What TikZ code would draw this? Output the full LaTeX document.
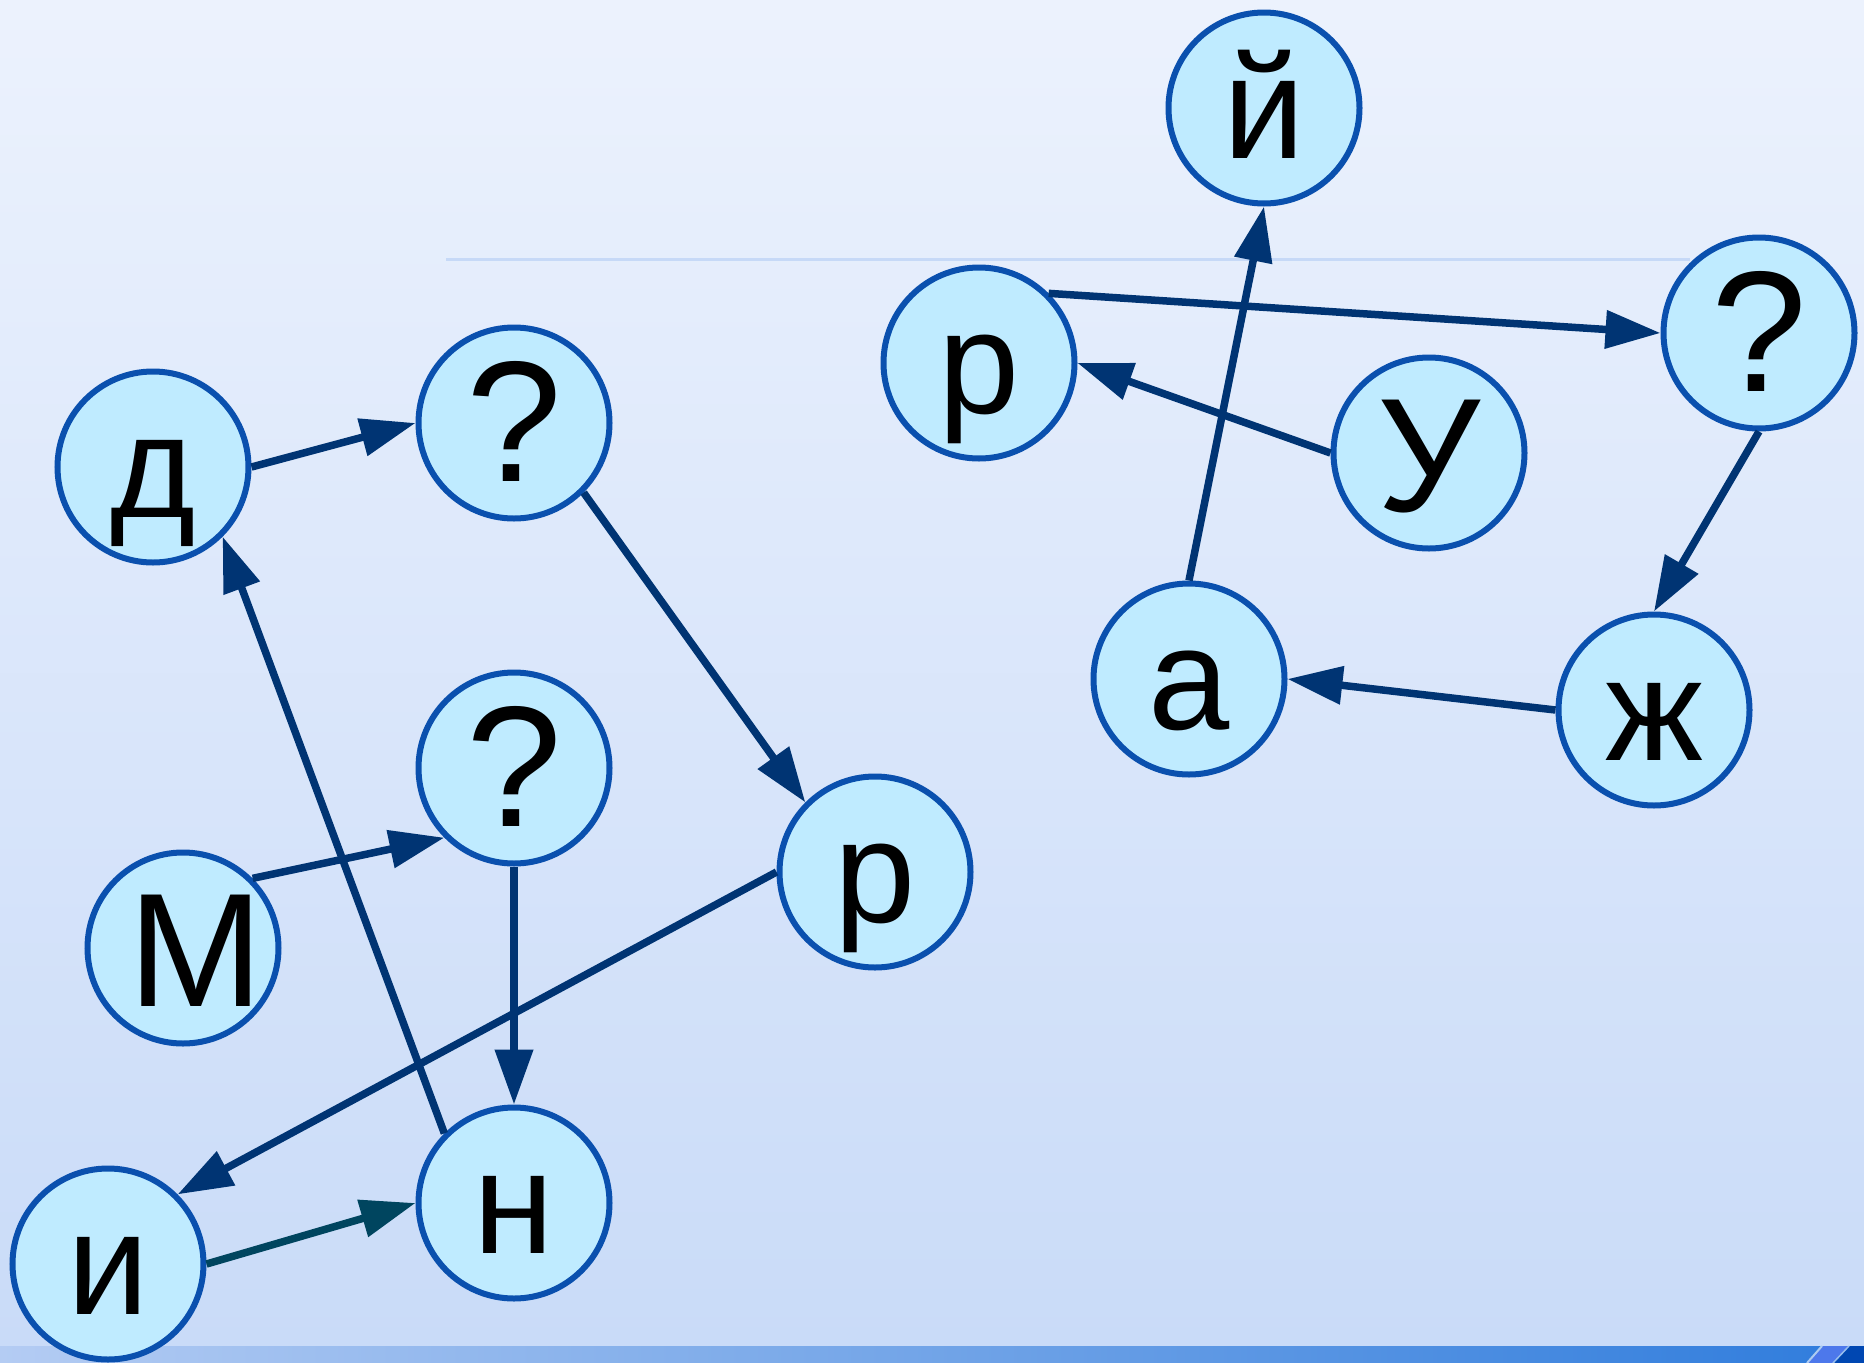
\documentclass[tikz,border=0pt]{standalone}
\usepackage{fontspec}
\setmainfont{Liberation Sans}
\usetikzlibrary{arrows.meta}
\definecolor{bgtop}{HTML}{ECF2FD}
\definecolor{bgbot}{HTML}{C9DBF8}
\definecolor{barleft}{HTML}{B4CCF3}
\definecolor{barright}{HTML}{2F7CDC}
\definecolor{nodefill}{HTML}{BFEBFF}
\definecolor{nodedraw}{HTML}{0A50AE}
\definecolor{arr}{HTML}{003473}
\definecolor{arrteal}{HTML}{00455F}
\definecolor{hline}{HTML}{C6D9F7}
\begin{document}
\begin{tikzpicture}[x=1pt,y=-1pt,
  vtx/.style={circle, draw=nodedraw, fill=nodefill, line width=6pt,
    minimum size=191pt, inner sep=0pt, text height=100pt, text depth=0pt,
    font=\fontsize{146}{146}\selectfont},
  bigglyph/.style={font=\fontsize{172}{172}\selectfont, text height=116pt},
  capglyph/.style={font=\fontsize{162}{162}\selectfont, text height=116pt},
  link/.style={draw=arr, line width=7.5pt, -{Triangle[length=55pt,width=37pt]}},
  linkteal/.style={link, draw=arrteal},
]
\useasboundingbox (0,0) rectangle (1864,1363);
% background
\shade[top color=bgtop, bottom color=bgbot] (0,0) rectangle (1864,1346);
\shade[left color=barleft, right color=barright] (0,1346) rectangle (1864,1363);
\fill[barright!70!blue!80!white] (1807,1363) -- (1822,1346) -- (1864,1346) -- (1864,1363) -- cycle;
\fill[blue!60!cyan!70!black] (1833,1363) -- (1849,1346) -- (1864,1346) -- (1864,1363) -- cycle;
\draw[white!60!barright, line width=2pt] (1807,1363) -- (1822,1346);
\draw[white!50!barright, line width=1.5pt] (1833,1363) -- (1849,1346);
\draw[hline, line width=3pt] (446,259) -- (1690,259);

% nodes
\node[vtx] (d)  at (153,467)  {д};
\node[vtx,bigglyph] (q1) at (514,423)  {?};
\node[vtx,bigglyph] (q2) at (514,768)  {?};
\node[vtx,capglyph] (m)  at (183,948)  {\makebox[0pt][c]{\hspace*{26pt}М}};
\node[vtx] (r1) at (875,872)  {р};
\node[vtx] (i)  at (108,1264) {и};
\node[vtx] (n)  at (514,1203) {н};
\node[vtx] (y)  at (1264,108) {й};
\node[vtx] (r2) at (979,363)  {р};
\node[vtx,bigglyph] (qt) at (1759,333) {?};
\node[vtx,capglyph] (u)  at (1429,453) {У};
\node[vtx] (a)  at (1189,679) {а};
\node[vtx] (zh) at (1654,710) {ж};

% connectors
\draw[link] (d.east) -- (q1.west);
\draw[link] (q1.-45) -- (r1.135);
\draw[link] (n.135) -- (d.-45);
\draw[link] (m.45) -- (q2.225);
\draw[link] (q2.south) -- (n.north);
\draw[link] (r1.west) -- (i.45);
\draw[linkteal] (i.east) -- (n.west);
\draw[link] (a.north) -- (y.south);
\draw[link] (r2.45) -- (qt.west);
\draw[link] (u.west) -- (r2.east);
\draw[link] (qt.south) -- (zh.north);
\draw[link] (zh.west) -- (a.east);
\end{tikzpicture}
\end{document}
